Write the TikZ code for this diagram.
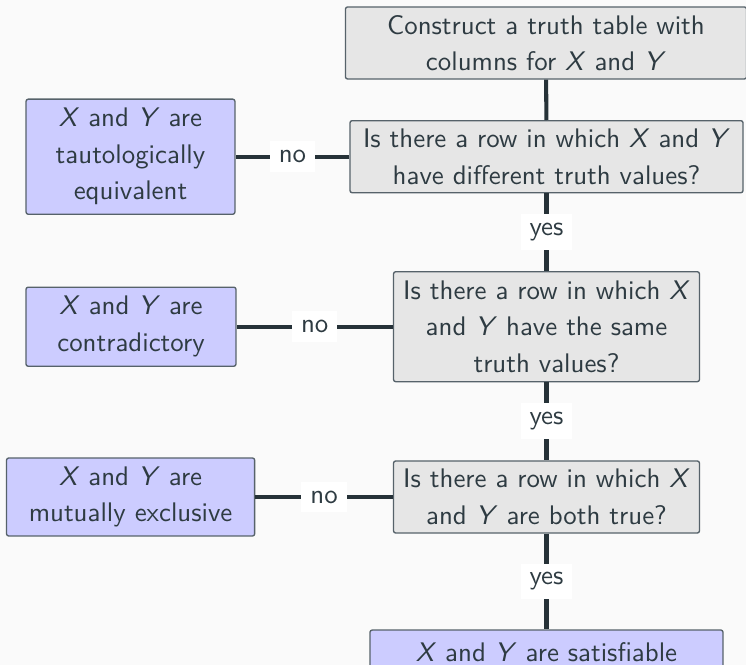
\documentclass[tikz,border=0pt]{standalone}
\usepackage{tikz}
\renewcommand{\familydefault}{\sfdefault}
\definecolor{ink}{HTML}{2E3B42}
\definecolor{wire}{HTML}{263238}
\definecolor{edge}{HTML}{56626A}
\definecolor{qgrey}{HTML}{E6E6E6}
\definecolor{alav}{HTML}{CCCCFF}
\definecolor{paper}{HTML}{FAFAFA}

\begin{document}
\begin{tikzpicture}[x=0.372pt, y=-0.372pt,
    box/.style={draw=edge, line width=0.5pt, rounded corners=0.8pt, align=center,
        inner sep=0pt, text=ink, font=\fontsize{10}{13.6}\selectfont},
    question/.style={box, fill=qgrey},
    answer/.style={box, fill=alav},
    link/.style={draw=wire, line width=1.5pt},
    tag/.style={fill=white, text=ink, inner sep=3.33pt}]
    \fill[paper] (0,0) rectangle (746,665);
    \useasboundingbox (0,0) rectangle (746,665);
    % questions down the right
    \node[question, minimum width=149.2pt, minimum height=26.8pt] (table) at (546,43)
        {Construct a truth table with\\columns for \textit{X} and \textit{Y}};
    \node[question, minimum width=146.2pt, minimum height=26.8pt] (differ) at (546.5,156.7)
        {Is there a row in which \textit{X} and \textit{Y}\\have different truth values?};
    \node[question, minimum width=113.8pt, minimum height=40.9pt] (same) at (546.5,326.7)
        {Is there a row in which \textit{X}\\and \textit{Y} have the same\\truth values?};
    \node[question, minimum width=113.8pt, minimum height=26.8pt] (both) at (546.5,497)
        {Is there a row in which \textit{X}\\and \textit{Y} are both true?};
    \node[answer, minimum width=131.3pt, minimum height=16.7pt] (sat) at (546.5,652.5)
        {\textit{X} and \textit{Y} are satisfiable};
    % answers on the left
    \node[answer, minimum width=77.7pt, minimum height=42.8pt] (equiv) at (130.5,156.7)
        {\textit{X} and \textit{Y} are\\tautologically\\equivalent};
    \node[answer, minimum width=78.1pt, minimum height=29.4pt] (contra) at (131,326.7)
        {\textit{X} and \textit{Y} are\\contradictory};
    \node[answer, minimum width=92.3pt, minimum height=29pt] (excl) at (130.6,497)
        {\textit{X} and \textit{Y} are\\mutually exclusive};
    % connectors
    \draw[link] (table) -- (differ);
    \draw[link] (differ) -- node[tag] {yes} (same);
    \draw[link] (same) -- node[tag] {yes} (both);
    \draw[link] (both) -- node[tag] {yes} (sat);
    \draw[link] (differ) -- node[tag] {no} (equiv);
    \draw[link] (same) -- node[tag] {no} (contra);
    \draw[link] (both) -- node[tag] {no} (excl);
\end{tikzpicture}
\end{document}
